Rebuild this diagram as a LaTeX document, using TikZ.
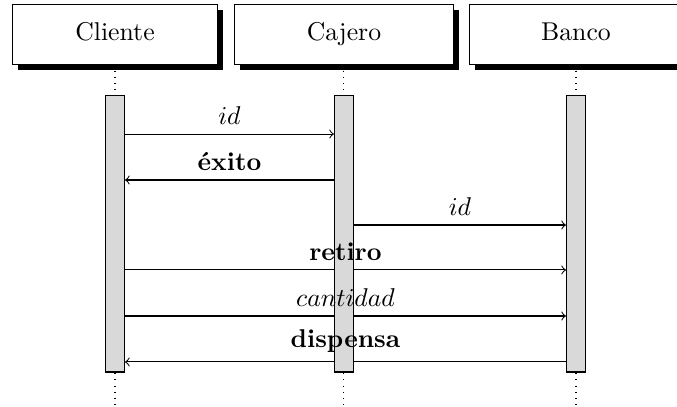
\documentclass[tikz,border=0pt]{standalone}
\usetikzlibrary{shadows, backgrounds}

\begin{document}
\begin{tikzpicture}[
    thread/.style={draw, fill=white, minimum height=0.81cm, text height=1.6ex, text depth=.5ex, drop shadow={opacity=1, fill=black}},
    bar/.style={draw, fill=gray!30, minimum width=0.26cm, minimum height=3.784cm, inner sep=0pt},
    msg/.style={->},
  ]
    \useasboundingbox (0,0) rectangle (9.249,5.560);
    %threads
    \node[thread, minimum width=2.80cm] at (1.571,5.090) (cli){Cliente};
    \node[thread, minimum width=2.99cm] at (4.699,5.090) (caj){Cajero};
    \node[thread, minimum width=2.92cm] at (7.869,5.090) (ban){Banco};
    %activation bars
    \node[bar] at (1.571,2.370) (cliB){};
    \node[bar] at (4.699,2.370) (cajB){};
    \node[bar] at (7.869,2.370) (banB){};
    %message levels
    \coordinate (m1) at (0,3.729);
    \coordinate (m2) at (0,3.101);
    \coordinate (m3) at (0,2.486);
    \coordinate (m4) at (0,1.872);
    \coordinate (m5) at (0,1.243);
    \coordinate (m6) at (0,0.615);
    \begin{pgfonlayer}{background}
      \draw[dotted] (cli.south) -- (cli.south |- 0,0);
      \draw[dotted] (caj.south) -- (caj.south |- 0,0);
      \draw[dotted] (ban.south) -- (ban.south |- 0,0);
      \draw[msg] (cliB.east |- m1) -- coordinate[midway] (l1) (cajB.west |- m1);
      \draw[msg] (cajB.west |- m2) -- coordinate[midway] (l2) (cliB.east |- m2);
      \draw[msg] (cajB.east |- m3) -- coordinate[midway] (l3) (banB.west |- m3);
      \draw[msg] (cliB.east |- m4) -- coordinate[midway] (l4) (banB.west |- m4);
      \draw[msg] (cliB.east |- m5) -- coordinate[midway] (l5) (banB.west |- m5);
      \draw[msg] (banB.west |- m6) -- coordinate[midway] (l6) (cliB.east |- m6);
    \end{pgfonlayer}
    %labels over the bars
    \node[above] at (l1) (t1){ $id$ };
    \node[above] at (l2) (t2){ \textbf{éxito} };
    \node[above] at (l3) (t3){ $id$ };
    \node[above] at (l4) (t4){ \textbf{retiro} };
    \node[above] at (l5) (t5){ $cantidad$ };
    \node[above] at (l6) (t6){ \textbf{dispensa} };
  \end{tikzpicture}
\end{document}
